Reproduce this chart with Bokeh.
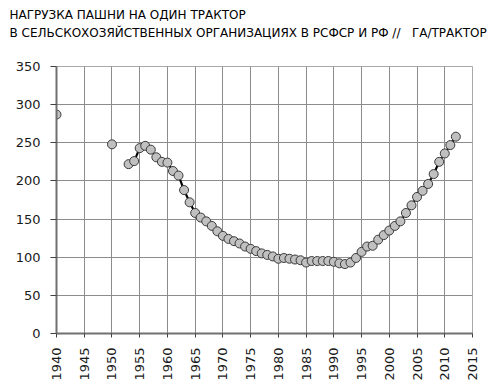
import math
from bokeh.plotting import figure
from bokeh.models import Range1d, FixedTicker, ColumnDataSource, Title
from bokeh.embed import file_html
from bokeh.resources import INLINE

# ---- data ----
title_line1 = "НАГРУЗКА ПАШНИ НА ОДИН ТРАКТОР"
title_line2 = "В СЕЛЬСКОХОЗЯЙСТВЕННЫХ ОРГАНИЗАЦИЯХ В РСФСР И РФ //\u00a0\u00a0\u00a0ГА/ТРАКТОР"

early_years = [1940, 1950]
early_values = [287, 248]

years = list(range(1953, 2013))
values = [222, 226, 243, 246, 241, 231, 225, 224, 213, 207,
          188, 172, 158, 152, 147, 141, 134, 128, 124, 121,
          118, 114, 111, 108, 105, 103, 101, 98, 99, 98,
          97, 96, 93, 95, 95, 95, 95, 94, 92, 91,
          93, 99, 107, 114, 115, 123, 129, 135, 141, 147,
          158, 168, 179, 187, 196, 209, 225, 236, 247, 258]

x_ticks = list(range(1940, 2016, 5))
y_ticks = list(range(0, 351, 50))

FONT = "DejaVu Sans"
W, H = 502, 386
LEFT, RIGHT, TOP, BOTTOM = 56, 30, 66, 53

p = figure(width=W, height=H, output_backend="svg", toolbar_location=None,
           title=None,
           x_range=Range1d(1940, 2015), y_range=Range1d(0, 350),
           min_border_left=LEFT, min_border_right=RIGHT, min_border_top=TOP,
           min_border_bottom=BOTTOM)

def make_title(txt, standoff):
    return Title(text=txt, text_font=FONT, text_font_size="12px",
                 text_font_style="normal", text_color="#000000",
                 align="left", offset=9 - LEFT, standoff=standoff)

# stacked from the frame outward: spacer, line 2, line 1
p.add_layout(make_title("\u00a0", 10), "above")
p.add_layout(make_title(title_line2, 2), "above")
p.add_layout(make_title(title_line1, 2), "above")

p.xaxis.ticker = FixedTicker(ticks=x_ticks)
p.yaxis.ticker = FixedTicker(ticks=y_ticks)
p.xgrid.ticker = FixedTicker(ticks=x_ticks)
p.ygrid.ticker = FixedTicker(ticks=y_ticks)

for ax in (p.xaxis, p.yaxis):
    ax.axis_line_color = "#707070"
    ax.axis_line_width = 2
    ax.major_tick_line_color = "#404040"
    ax.major_tick_in = 0
    ax.minor_tick_line_color = None
    ax.major_label_text_font = FONT
    ax.major_label_text_font_size = "13px"
    ax.major_label_text_color = "#1a1a1a"

p.xaxis.major_tick_out = 4
p.xaxis.major_label_standoff = 10
p.xaxis.major_label_orientation = math.pi / 2
p.yaxis.major_tick_out = 6
p.yaxis.major_label_standoff = 10

p.xgrid.grid_line_color = "#8c8c8c"
p.ygrid.grid_line_color = "#8c8c8c"
p.xgrid.grid_line_width = 1
p.ygrid.grid_line_width = 1

p.outline_line_color = "#a8a8a8"
p.outline_line_width = 1
p.background_fill_color = "white"
p.border_fill_color = "white"

main = ColumnDataSource(data=dict(x=years, y=values))
early = ColumnDataSource(data=dict(x=early_years, y=early_values))

p.line("x", "y", source=main, line_color="#000000", line_width=2.2)
p.scatter("x", "y", source=main, size=9, fill_color="#c0c0c0",
          line_color="#3a3a3a", line_width=1)
p.scatter("x", "y", source=early, size=9, fill_color="#c0c0c0",
          line_color="#3a3a3a", line_width=1)

open("out.html", "w").write(file_html(p, INLINE))
